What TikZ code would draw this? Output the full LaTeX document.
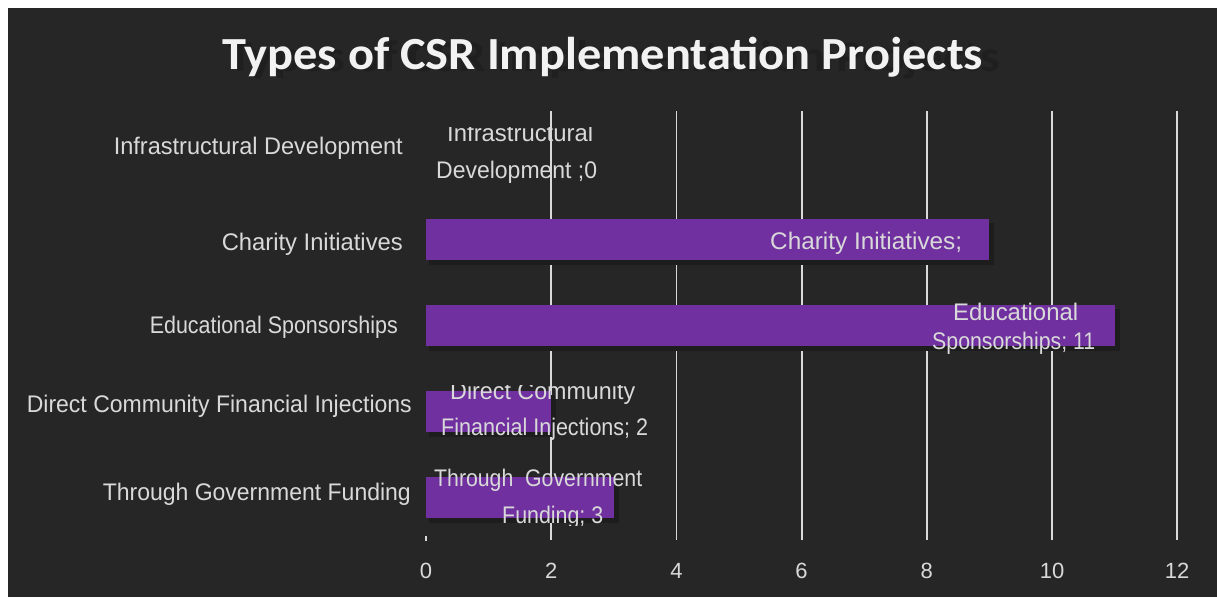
\documentclass[tikz,border=0pt]{standalone}
\usepackage{fontspec}
\setmainfont{Liberation Sans}
\newfontfamily\titlefont{Carlito}
\usepackage{graphicx}
\definecolor{bgc}{HTML}{262626}
\definecolor{txt}{HTML}{D9D9D9}
\definecolor{barc}{HTML}{7030A0}
\definecolor{bshadow}{HTML}{1D1D1D}
\definecolor{ttl}{HTML}{F2F2F2}
\definecolor{tshad}{HTML}{1F1F1F}
\newcommand\fitw[2]{\resizebox{#1pt}{\height}{#2}}
\tikzset{
  lbl/.style={text=txt, inner sep=0pt, font=\fontsize{24}{28}\selectfont},
  dlbl/.style={lbl, anchor=base west},
  clbl/.style={lbl, anchor=base east},
  albl/.style={text=txt, inner sep=0pt, anchor=base, font=\fontsize{22}{26}\selectfont},
  gridln/.style={draw=txt, line width=1.8pt},
  barbox/.style={fill=barc},
  barshadow/.style={fill=bshadow}
}
\begin{document}
\begin{tikzpicture}[x=1pt,y=-1pt]
\useasboundingbox (0,0) rectangle (1217,597);
\fill[white] (0,0) rectangle (1217,597);
\fill[bgc] (8,8) rectangle (1217,597);
% title
\node[inner sep=0pt, anchor=base west, text=tshad, font=\titlefont\bfseries\fontsize{44}{50}\selectfont] (tshadow) at (228,71) {\resizebox{772pt}{\height}{Types of CSR Implementation Projects}};
\node[inner sep=0pt, anchor=base west, text=ttl, font=\titlefont\bfseries\fontsize{46}{50}\selectfont] (title) at (222,69) {\resizebox{761pt}{\height}{Types of CSR Implementation Projects}};
% gridlines
\foreach \v in {2,4,6,8,10,12} {
  \draw[gridln] ({426+62.6*\v},111) -- ({426+62.6*\v},540);
}
\draw[gridln] (426,536) -- (426,541);
% axis labels
\foreach \v in {0,2,4,6,8,10,12} {
  \node[albl] (ax\v) at ({426+62.6*\v},578.5) {\v};
}
% bars: category center y, value
\foreach \cy/\val in {239.5/9, 325.5/11, 411.5/2, 497.5/3} {
  \fill[barshadow] (429,{\cy-20.5+4}) rectangle ({426+62.6*\val+5},{\cy+20.5+5});
  \fill[barbox] (426,{\cy-20.5}) rectangle ({426+62.6*\val},{\cy+20.5});
}
% category labels
\node[clbl] (c1) at (403,154) {\fitw{289}{Infrastructural Development}};
\node[clbl] (c2) at (403,250) {\fitw{181}{Charity Initiatives}};
\node[clbl] (c3) at (398,333.5) {\fitw{248}{Educational Sponsorships}};
\node[clbl] (c4) at (412,412.5) {\fitw{385}{Direct Community Financial Injections}};
\node[clbl] (c5) at (411,500) {\fitw{308}{Through Government Funding}};
% data labels
\begin{scope}
  \clip (420,127.5) rectangle (700,200);
  \node[dlbl] (d1a) at (447,141) {\fitw{146}{Infrastructural}};
\end{scope}
\node[dlbl] (d1b) at (436,178) {\fitw{161}{Development ;0}};
\node[dlbl] (d2) at (770,249.5) {\fitw{192}{Charity Initiatives;}};
\node[dlbl] (d3a) at (953,320.5) {\fitw{125}{Educational}};
\node[dlbl] (d3b) at (932,349.5) {\fitw{163}{Sponsorships; 11}};
\begin{scope}
  \clip (420,385) rectangle (700,420);
  \node[dlbl] (d4a) at (450,399) {\fitw{185}{Direct Community}};
\end{scope}
\node[dlbl] (d4b) at (441,435) {\fitw{207}{Financial Injections; 2}};
\node[dlbl] (d5a) at (434,486) {\fitw{208}{Through\ \ Government}};
\begin{scope}
  \clip (420,490) rectangle (700,525.5);
  \node[dlbl] (d5b) at (502,523.5) {\fitw{101}{Funding; 3}};
\end{scope}
\end{tikzpicture}
\end{document}
